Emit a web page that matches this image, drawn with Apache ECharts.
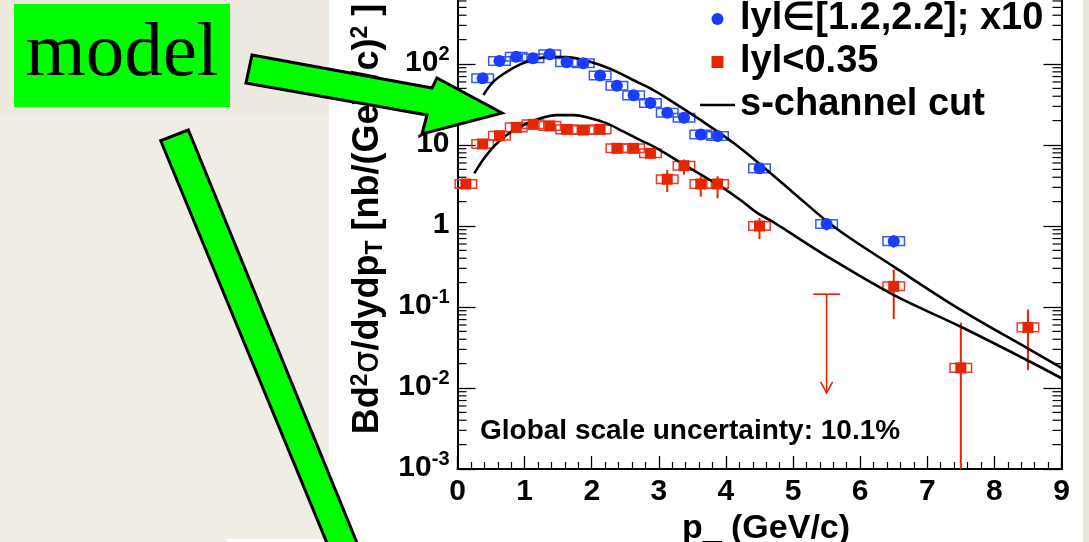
<!DOCTYPE html>
<html><head><meta charset="utf-8">
<script src="https://cdn.jsdelivr.net/npm/echarts@6/dist/echarts.min.js"></script>
<style>html,body{margin:0;padding:0;background:#fff}#c{width:1089px;height:542px}</style>
</head><body><div id="c"></div>
<script>
// ---------- data ----------
const blueX  = [0.375,0.625,0.875,1.125,1.375,1.625,1.875,2.125,2.375,2.625,2.875,3.125,3.375,3.625,3.875,4.5,5.5,6.5];
const blueY  = [66.6,109,123,118,132,105,102,72,54,41,33,25,21.7,13.5,12.9,5.15,1.06,0.65];
const blueLo = [63,104,118,113,127,101,98,69,52,39,31.5,24,20.7,12.9,12.3,4.7,0.88,0.54];
const blueHi = [70,114,128,123,137,109,106,75,56,43,34.5,26,22.7,14.1,13.5,5.6,1.25,0.77];

const redX  = [0.125,0.375,0.625,0.875,1.125,1.375,1.625,1.875,2.125,2.375,2.625,2.875,3.125,3.375,3.625,3.875,4.5,6.5,7.5,8.5];
const redY  = [3.3,10.3,13.0,16.5,18.0,17.2,15.6,15.3,15.6,9.1,9.1,7.9,3.78,5.55,3.3,3.3,1.0,0.18,0.0177,0.056];
const redLo = [2.9,9.8,12.4,15.8,17.2,16.4,14.9,14.6,14.9,8.6,8.6,6.8,2.63,4.3,2.3,2.2,0.69,0.071,0.001,0.0166];
const redHi = [3.8,10.8,13.6,17.2,18.8,18.0,16.3,16.0,16.3,9.6,9.6,8.6,4.9,6.6,4.1,4.1,1.26,0.29,0.064,0.093];

// upper limit (red, p=5.5): limit value and arrow end value
const limitX = [5.5];
const limitY = [0.144];
const limitEnd = [0.0087];

// model curves (s-channel cut)
const modelUpperX = [0.386,0.535,0.734,0.933,1.132,1.381,1.63,1.878,2.127,2.376,2.624,2.873,3.122,3.62,4.12,4.6,5.0,5.63,6.5,7.5,8.49,9.0];
const modelUpperY = [41.4,60.5,80,99,114,123,122,112,97,80,63,50,37.7,20.4,10.5,5.0,2.6,0.95,0.315,0.092,0.031,0.0177];
const modelLowerX = [0.251,0.386,0.535,0.734,0.933,1.182,1.48,1.73,1.978,2.226,2.475,2.724,2.97,3.22,3.47,3.72,3.967,4.216,4.465,4.664,4.813,5.51,6.504,7.5,8.49,9.0];
const modelLowerY = [4.47,6.65,9.5,13.3,16.8,20.7,23.4,23.4,21.4,18.5,14.6,11.5,9.1,6.85,5.15,3.88,2.92,2.09,1.45,1.17,0.98,0.42,0.14,0.057,0.022,0.0132];

// tick labels
const yTickBase = ['10','10','10','1','10','10','10'];
const yTickExp  = ['-3','-2','-1','','','2','3'];

const nameBlue = 'lyl\u2208[1.2,2.2]; x10';
const nameRed = 'lyl<0.35';
const nameModel = 's-channel cut';

// ---------- style constants ----------
const FONT = '"Liberation Sans", Arial, Helvetica, sans-serif';
const BLUE = '#1a3cff', BLUE_BOX = '#3558ff';
const RED = '#e52600', RED_BOX = '#ee3b2a';
const BOX_HALF_W = 0.16, SYS_REL = 0.13;
const X_MIN = 0, X_MAX = 9;

const chart = echarts.init(document.getElementById('c'));

function sysRenderer(lineColor, boxColor) {
  return function (params, api) {
    const x = api.value(0), y = api.value(1), lo = api.value(2), hi = api.value(3);
    const tl = api.coord([x - BOX_HALF_W, y * (1 + SYS_REL)]);
    const br = api.coord([x + BOX_HALF_W, y / (1 + SYS_REL)]);
    const eT = api.coord([x, hi]);
    const eB = api.coord([x, lo]);
    return {type: 'group', children: [
      {type: 'line', shape: {x1: eT[0], y1: eT[1], x2: eB[0], y2: eB[1]}, style: {stroke: lineColor, lineWidth: 2}},
      {type: 'rect', shape: {x: tl[0], y: tl[1], width: br[0] - tl[0], height: br[1] - tl[1]},
       style: {fill: 'rgba(0,0,0,0)', stroke: boxColor, lineWidth: 1.5}}
    ]};
  };
}

const minorVals = [];
for (let e = -3; e < 3; e++) for (let k = 2; k <= 9; k++) minorVals.push(k * Math.pow(10, e));

const option = {
  backgroundColor: '#ffffff',
  animation: false,
  grid: {left: 457.5, right: 27.5, top: -17, bottom: 73, containLabel: false, outerBoundsMode: 'none'},
  legend: {
    orient: 'vertical', left: 700, top: -2.5, padding: 0, itemWidth: 35, itemHeight: 12, itemGap: 0,
    selectedMode: false,
    textStyle: {fontSize: 38, fontWeight: 'bold', color: '#000', fontFamily: FONT, lineHeight: 43},
    data: [
      {name: nameBlue, icon: 'circle'},
      {name: nameRed, icon: 'path://M0,0H10V10H0Z'},
      {name: nameModel, icon: 'path://M0,0H35V2.6H0Z', itemStyle: {color: '#000'}}
    ]
  },
  xAxis: {
    type: 'value', min: X_MIN, max: X_MAX, interval: 1,
    axisLine: {lineStyle: {color: '#000', width: 2}},
    axisTick: {inside: true, length: 13, lineStyle: {color: '#000', width: 1.3}},
    minorTick: {show: true, splitNumber: 5, length: 7, lineStyle: {color: '#000', width: 1.2}},
    splitLine: {show: false},
    axisLabel: {fontSize: 30, fontWeight: 'bold', color: '#000', fontFamily: FONT, margin: 8},
    name: 'p_ (GeV/c)', nameLocation: 'middle', nameGap: 37,
    nameTextStyle: {fontSize: 34, fontWeight: 'bold', color: '#000', fontFamily: FONT, padding: [0, 0, 0, 13]}
  },
  yAxis: [{
    type: 'log', logBase: 10, min: 0.001, max: 1000,
    axisLine: {lineStyle: {color: '#000', width: 2}},
    axisTick: {inside: true, length: 18, lineStyle: {color: '#000', width: 1.3}},
    splitLine: {show: false},
    axisLabel: {
      margin: 8, padding: [0, 0, 6, 0],
      formatter: function (v) {
        const i = Math.round(Math.log10(v)) + 3;
        return '{b|' + yTickBase[i] + '}' + (yTickExp[i] ? '{s|' + yTickExp[i] + '}' : '');
      },
      rich: {
        b: {fontSize: 30, fontWeight: 'bold', color: '#000', fontFamily: FONT, lineHeight: 34, verticalAlign: 'bottom'},
        s: {fontSize: 20, fontWeight: 'bold', color: '#000', fontFamily: FONT, lineHeight: 20, verticalAlign: 'top'}
      }
    },
    name: '{a|Bd}{p|2}{g|\u03c3}{a|/dydp}{d|T}{a| [nb/(GeV/c)}{p|2}{a| ]}',
    nameLocation: 'middle', nameRotate: 90, nameGap: 68,
    nameTextStyle: {
      padding: [0, 0, 0, 14],
      rich: {
        a: {fontSize: 36, fontWeight: 'bold', color: '#000', fontFamily: FONT, lineHeight: 38, verticalAlign: 'middle'},
        g: {fontSize: 36, fontWeight: 'normal', color: '#000', fontFamily: '"DejaVu Sans", sans-serif', lineHeight: 38, verticalAlign: 'middle'},
        p: {fontSize: 23, fontWeight: 'bold', color: '#000', fontFamily: FONT, lineHeight: 23, verticalAlign: 'top'},
        d: {fontSize: 23, fontWeight: 'bold', color: '#000', fontFamily: FONT, lineHeight: 23, verticalAlign: 'bottom'}
      }
    }
  }, {
    type: 'log', logBase: 10, min: 0.001, max: 1000, position: 'right',
    axisLine: {lineStyle: {color: '#000', width: 2}},
    axisTick: {inside: true, length: 18, lineStyle: {color: '#000', width: 1.3}},
    axisLabel: {show: false}, splitLine: {show: false}
  }],
  series: [
    {
      type: 'custom', name: 'minor', silent: true, z: 1,
      encode: {x: 0, y: 1},
      data: minorVals.map(v => [X_MIN, v]),
      renderItem: function (params, api) {
        const v = api.value(1);
        const pL = api.coord([X_MIN, v]);
        const pR = api.coord([X_MAX, v]);
        return {type: 'group', children: [
          {type: 'line', shape: {x1: pL[0], y1: pL[1], x2: pL[0] + 9, y2: pL[1]}, style: {stroke: '#000', lineWidth: 1.2}},
          {type: 'line', shape: {x1: pR[0] - 9, y1: pR[1], x2: pR[0], y2: pR[1]}, style: {stroke: '#000', lineWidth: 1.2}}
        ]};
      }
    },
    {
      type: 'custom', name: 'blueSys', silent: true, z: 3,
      encode: {x: 0, y: 1},
      data: blueX.map((x, i) => [x, blueY[i], blueLo[i], blueHi[i]]),
      renderItem: sysRenderer(BLUE, BLUE_BOX)
    },
    {
      type: 'custom', name: 'redSys', silent: true, z: 3,
      encode: {x: 0, y: 1},
      data: redX.map((x, i) => [x, redY[i], redLo[i], redHi[i]]),
      renderItem: sysRenderer(RED, RED_BOX)
    },
    {
      type: 'custom', name: 'upperLimit', silent: true, z: 3,
      encode: {x: 0, y: 1},
      data: limitX.map((x, i) => [x, limitY[i], limitEnd[i]]),
      renderItem: function (params, api) {
        const x = api.value(0), v = api.value(1), ve = api.value(2);
        const l = api.coord([x - 0.2, v]), r = api.coord([x + 0.2, v]);
        const t = api.coord([x, v]), b = api.coord([x, ve]);
        return {type: 'group', children: [
          {type: 'line', shape: {x1: l[0], y1: l[1], x2: r[0], y2: r[1]}, style: {stroke: RED, lineWidth: 1.6}},
          {type: 'line', shape: {x1: t[0], y1: t[1], x2: b[0], y2: b[1]}, style: {stroke: RED, lineWidth: 1.6}},
          {type: 'polyline', shape: {points: [[b[0] - 6, b[1] - 11], [b[0], b[1]], [b[0] + 6, b[1] - 11]]}, style: {stroke: RED, lineWidth: 1.6, fill: null}}
        ]};
      }
    },
    {
      type: 'line', name: nameModel, data: modelUpperX.map((x, i) => [x, modelUpperY[i]]),
      smooth: 0.35, symbol: 'none', z: 4,
      lineStyle: {color: '#000', width: 2.6}, itemStyle: {color: '#000'}
    },
    {
      type: 'line', name: nameModel, data: modelLowerX.map((x, i) => [x, modelLowerY[i]]),
      smooth: 0.35, symbol: 'none', z: 4,
      lineStyle: {color: '#000', width: 2.6}, itemStyle: {color: '#000'}
    },
    {
      type: 'scatter', name: nameBlue, symbol: 'circle', symbolSize: 12, z: 5,
      itemStyle: {color: BLUE, opacity: 1},
      data: blueX.map((x, i) => [x, blueY[i]])
    },
    {
      type: 'scatter', name: nameRed, symbol: 'rect', symbolSize: 11, z: 5,
      itemStyle: {color: RED, opacity: 1},
      data: redX.map((x, i) => [x, redY[i]])
    }
  ],
  graphic: [
    {type: 'rect', z: -10, silent: true, shape: {x: 0, y: 0, width: 329, height: 542}, style: {fill: '#efede4'}},
    {type: 'rect', z: -9, silent: true, shape: {x: 0, y: 0, width: 329, height: 115}, style: {fill: '#ede9e1'}},
    {type: 'rect', z: -9, silent: true, shape: {x: 227, y: 539, width: 102, height: 3}, style: {fill: '#ffffff'}},
    {type: 'rect', z: -9, silent: true, shape: {x: 1083, y: 0, width: 6, height: 542}, style: {fill: '#e9e5da'}},
    {type: 'text', z: 50, silent: true, style: {x: 480, y: 431, text: 'Global scale uncertainty: 10.1%', fill: '#000',
      font: 'bold 28px ' + FONT, align: 'left', verticalAlign: 'middle'}},
    {type: 'rect', z: 100, silent: true, shape: {x: 14, y: 4, width: 216, height: 103}, style: {fill: '#00ff00'}},
    {type: 'text', z: 101, silent: true, style: {x: 122, y: 55, text: 'model', fill: '#000',
      font: 'normal 77px "Liberation Serif", "Times New Roman", serif', align: 'center', verticalAlign: 'middle'}},
    {type: 'polygon', z: 100, silent: true,
      shape: {points: [[252, 55], [432, 88], [437, 78], [502, 113], [422, 134], [427, 115], [246, 83]]},
      style: {fill: '#00ff00', stroke: '#000', lineWidth: 3, lineJoin: 'miter'}},
    {type: 'polygon', z: 100, silent: true,
      shape: {points: [[160.7, 140.7], [188.3, 130], [364, 560], [334, 560]]},
      style: {fill: '#00ff00', stroke: '#000', lineWidth: 3}}
  ]
};
chart.setOption(option);
</script>
</body></html>
